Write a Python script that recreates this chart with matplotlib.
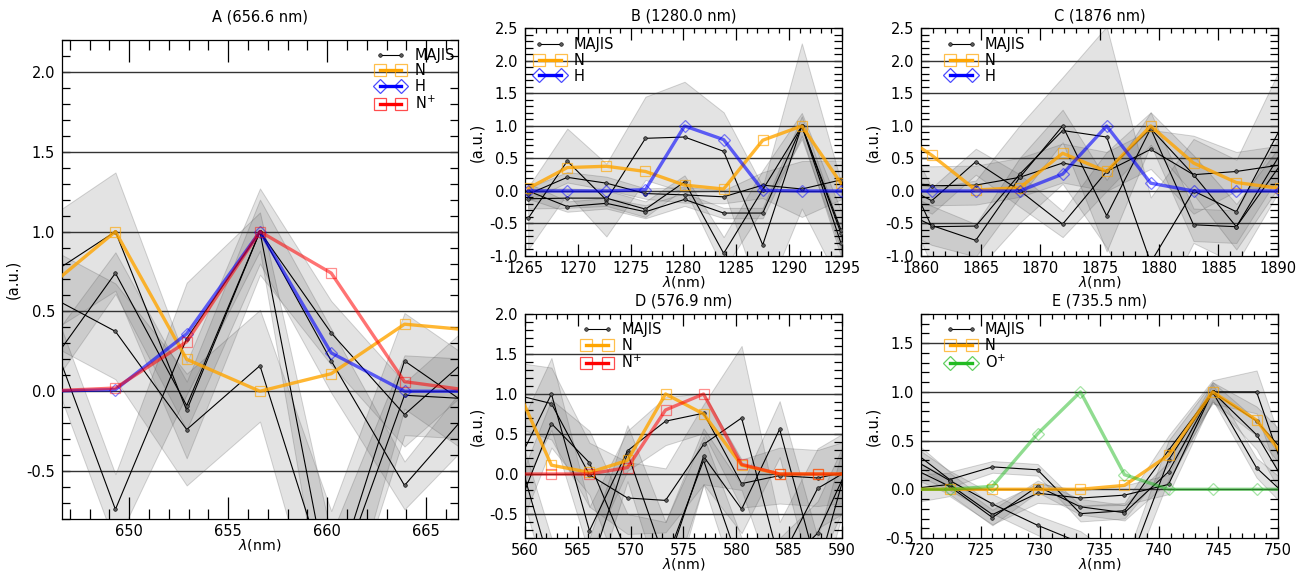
import matplotlib
matplotlib.use('Agg')
import matplotlib.pyplot as plt
from matplotlib.lines import Line2D
from matplotlib.ticker import MultipleLocator
import numpy as np

plt.rcParams['font.family'] = 'DejaVu Sans'
plt.rcParams['font.size'] = 10.5
plt.rcParams['axes.unicode_minus'] = False

# ---------------- A (656.6 nm)
a_wl = [645.6, 649.3, 652.9, 656.6, 660.2, 663.9, 667.5]
a_majis = [
    [0.70, 1.00, -0.12, 1.00, 0.365, -0.146, 0.25],
    [0.10, 0.74, -0.09, 1.00, 0.19, -0.59, -0.08],
    [0.62, 0.375, -0.24, 0.16, -1.25, 0.19, -0.12],
    [0.50, -0.74, 0.33, 1.00, -1.30, -0.025, -0.05],
]
a_majis_err = [
    [0.36, 0.37, 0.30, 0.27, 0.20, 0.20, 0.20],
    [0.15, 0.13, 0.15, 0.20, 0.20, 0.15, 0.20],
    [0.30, 0.30, 0.35, 0.35, 0.50, 0.30, 0.30],
    [0.22, 0.22, 0.35, 0.12, 0.40, 0.25, 0.25],
]
a_n = [0.62, 1.00, 0.20, 0.00, 0.11, 0.42, 0.38]
a_h = [0.00, 0.01, 0.36, 1.00, 0.24, 0.00, 0.00]
a_nplus = [0.00, 0.02, 0.31, 1.00, 0.74, 0.06, 0.00]

# ---------------- B (1280.0 nm)
b_wl = [1265.3, 1269.0, 1272.7, 1276.4, 1280.1, 1283.8, 1287.5, 1291.2, 1294.9]
b_majis = [
    [-0.42, 0.46, -0.14, 0.81, 0.83, 0.61, -0.83, 1.00, -0.65],
    [-0.05, 0.21, 0.12, -0.04, -0.06, -0.09, 0.09, 0.03, 0.17],
    [-0.12, -0.11, -0.11, -0.28, 0.14, -0.96, 0.02, 1.00, -0.60],
    [0.00, -0.24, -0.19, -0.32, -0.13, -0.34, -0.34, 1.00, -0.80],
]
b_majis_err = [
    [0.48, 0.50, 0.56, 0.64, 0.85, 0.60, 0.90, 1.27, 0.80],
    [0.10, 0.08, 0.10, 0.08, 0.12, 0.10, 0.20, 0.43, 0.30],
    [0.15, 0.15, 0.12, 0.12, 0.10, 0.25, 0.30, 0.20, 0.30],
    [0.12, 0.08, 0.08, 0.10, 0.10, 0.08, 0.08, 0.15, 0.20],
]
b_n = [0.04, 0.36, 0.38, 0.30, 0.09, 0.03, 0.78, 1.00, 0.12]
b_h = [0.00, 0.00, 0.00, 0.02, 1.00, 0.79, 0.01, 0.00, 0.00]

# ---------------- C (1876 nm)
c_wl = [1857.2, 1860.9, 1864.6, 1868.3, 1871.9, 1875.6, 1879.3, 1882.9, 1886.5, 1890.2]
c_majis = [
    [0.10, 0.08, 0.09, 0.21, 0.43, 0.30, 0.64, 0.25, 0.30, 0.40],
    [0.20, -0.15, 0.45, 0.005, -0.51, 0.30, 0.96, -0.52, -0.55, 0.57],
    [0.90, -0.55, -0.54, 0.26, 0.93, 0.83, -1.10, 0.00, -0.32, 0.96],
    [-0.20, -0.53, -0.76, 0.21, 1.00, -0.38, 0.96, 0.25, -0.55, 0.40],
]
c_majis_err = [
    [0.30, 0.30, 0.30, 0.30, 0.30, 0.30, 0.30, 0.60, 0.30, 0.30],
    [0.20, 0.20, 0.20, 0.25, 0.20, 0.30, 0.25, 0.25, 0.25, 0.30],
    [0.50, 0.60, 0.70, 0.75, 0.82, 1.70, 1.00, 0.80, 0.80, 0.93],
    [0.30, 0.30, 0.25, 0.30, 0.25, 0.55, 0.25, 0.30, 0.35, 0.30],
]
c_n = [1.00, 0.55, 0.015, 0.05, 0.58, 0.30, 1.00, 0.43, 0.13, 0.04]
c_h = [0.00, 0.00, 0.00, 0.00, 0.26, 1.00, 0.12, 0.00, 0.00, 0.00]

# ---------------- D (576.9 nm)
d_wl = [558.8, 562.5, 566.1, 569.7, 573.3, 576.9, 580.5, 584.1, 587.7, 591.3]
d_majis = [
    [1.00, 0.88, -0.01, -0.30, -0.33, 0.37, 0.70, -1.10, -0.18, 0.10],
    [0.00, 1.00, -0.71, 0.29, 0.66, 0.76, -0.12, -0.02, -0.05, 0.05],
    [-0.60, 0.63, 0.14, -1.00, -1.20, 0.22, -0.44, 0.56, -1.20, 0.50],
    [0.50, -1.20, -1.20, 0.26, -1.10, 0.17, -1.20, -1.20, -0.74, 0.30],
]
d_majis_err = [
    [0.40, 0.45, 0.40, 0.45, 0.40, 0.50, 0.90, 0.50, 0.50, 0.50],
    [0.40, 0.45, 0.30, 0.25, 0.30, 0.25, 0.30, 0.35, 0.35, 0.40],
    [0.30, 0.30, 0.40, 0.50, 0.60, 0.35, 0.30, 0.35, 0.40, 0.40],
    [0.30, 0.40, 0.40, 0.35, 0.50, 0.30, 0.40, 0.40, 0.40, 0.40],
]
d_n = [1.20, 0.11, 0.02, 0.17, 1.00, 0.75, 0.11, 0.00, 0.00, 0.00]
d_nplus = [0.00, 0.00, 0.00, 0.08, 0.80, 1.00, 0.12, 0.00, 0.00, 0.00]

# ---------------- E (735.5 nm)
e_wl = [718.7, 722.4, 726.0, 729.8, 733.4, 737.1, 740.8, 744.5, 748.2, 751.9]
e_majis = [
    [0.45, 0.10, 0.23, 0.20, -0.25, -0.22, 0.40, 1.00, 1.00, -0.30],
    [0.25, 0.03, -0.29, 0.03, -0.18, -0.24, 0.18, 1.00, 0.56, -0.20],
    [0.00, 0.05, -0.26, -0.04, -0.09, -0.06, 0.05, 1.00, 0.22, -0.20],
    [0.35, 0.09, -0.15, -0.37, -0.55, -0.90, 0.30, 1.00, 0.70, 0.20],
]
e_majis_err = [
    [0.12, 0.08, 0.06, 0.06, 0.08, 0.08, 0.15, 0.12, 0.22, 0.20],
    [0.10, 0.08, 0.08, 0.06, 0.08, 0.08, 0.10, 0.10, 0.15, 0.20],
    [0.15, 0.12, 0.10, 0.10, 0.08, 0.10, 0.10, 0.08, 0.10, 0.15],
    [0.15, 0.10, 0.10, 0.10, 0.12, 0.15, 0.20, 0.10, 0.15, 0.20],
]
e_n = [0.00, 0.00, 0.00, 0.00, 0.00, 0.04, 0.35, 1.00, 0.71, 0.10]
e_oplus = [0.00, 0.00, 0.03, 0.57, 1.00, 0.15, 0.00, 0.00, 0.00, 0.00]

# species styles: colour, marker, line alpha
styles = {
    'N': ('#ffa500', 's', 0.8),
    'H': ('#0000ff', 'D', 0.6),
    'N$^{+}$': ('#ff0000', 's', 0.55),
    'O$^{+}$': ('#22bb22', 'D', 0.5),
}


def draw_panel(ax, title, wl, majis, majis_err, models, xlim, ylim,
               leg_loc, leg_anchor, xtick_len, title_pad=6):
    wl = np.array(wl)
    for y, s in zip(majis, majis_err):
        y = np.array(y)
        s = np.array(s)
        ax.fill_between(wl, y - s, y + s, facecolor='0.45', alpha=0.2,
                        edgecolor='0.2', lw=0.7, zorder=1)
    for y in majis:
        ax.plot(wl, y, color='k', lw=0.8, marker='o', ms=2.6,
                mfc='0.35', mec='k', mew=0.4, zorder=3)

    handles = [Line2D([], [], color='k', lw=0.8, marker='o', ms=2.6,
                      mfc='0.35', mec='k', mew=0.4)]
    labels = ['MAJIS']
    for name, vals in models:
        col, mk, al = styles[name]
        rgb = matplotlib.colors.to_rgb(col)
        ms = 7.5 if mk == 's' else 6
        ax.plot(wl, vals, color=rgb + (al,), lw=2.4, marker=mk, ms=ms,
                mfc='none', mec=rgb + (al * 0.8,), mew=0.9, zorder=4)
        handles.append(Line2D([], [], color=col, lw=2.4, marker=mk, ms=ms + 1.5,
                              mfc='none', mec=rgb + (0.7,), mew=0.9))
        labels.append(name)

    ax.set_xlim(*xlim)
    ax.set_ylim(*ylim)
    ax.xaxis.set_major_locator(MultipleLocator(5))
    ax.xaxis.set_minor_locator(MultipleLocator(1))
    ax.yaxis.set_major_locator(MultipleLocator(0.5))
    ax.yaxis.set_minor_locator(MultipleLocator(0.1))
    ax.tick_params(axis='both', which='both', direction='in', top=True,
                   right=True, width=0.9, pad=3.5)
    ax.tick_params(axis='y', which='both', pad=5)
    ax.tick_params(axis='x', which='major', length=xtick_len)
    ax.tick_params(axis='x', which='minor', length=xtick_len * 0.45)
    ax.tick_params(axis='y', which='both', length=5.5)

    for g in np.arange(-2.0, 3.0, 0.5):
        if ylim[0] < g < ylim[1]:
            ax.axhline(g, color='0.2', lw=1.0, zorder=2)

    for sp in ax.spines.values():
        sp.set_linewidth(0.9)

    ax.set_title(title, fontsize=10.5, pad=title_pad)
    ax.set_xlabel(r'$\lambda$(nm)', labelpad=-1, fontsize=10.2)
    ax.set_ylabel('(a.u.)')
    ax.legend(handles, labels, loc=leg_loc, bbox_to_anchor=leg_anchor,
              frameon=False, numpoints=2, handlelength=2.1, handletextpad=0.6,
              labelspacing=0.05, borderpad=0.2, borderaxespad=0, fontsize=10.5)


fig = plt.figure(figsize=(13.07, 5.76), dpi=100)
ax_a = fig.add_axes([0.0474, 0.0990, 0.3030, 0.8316])
ax_b = fig.add_axes([0.4017, 0.5556, 0.2425, 0.3950])
ax_c = fig.add_axes([0.7047, 0.5556, 0.2731, 0.3950])
ax_d = fig.add_axes([0.4017, 0.0660, 0.2425, 0.3889])
ax_e = fig.add_axes([0.7047, 0.0660, 0.2731, 0.3889])

draw_panel(ax_a, 'A (656.6 nm)', a_wl, a_majis, a_majis_err,
           [('N', a_n), ('H', a_h), ('N$^{+}$', a_nplus)],
           (646.6, 666.6), (-0.8, 2.2), 'upper right', (1.0, 0.99), 16, title_pad=13)
draw_panel(ax_b, 'B (1280.0 nm)', b_wl, b_majis, b_majis_err,
           [('N', b_n), ('H', b_h)],
           (1265, 1295), (-1.0, 2.5), 'upper left', (0.02, 0.975), 8.5)
draw_panel(ax_c, 'C (1876 nm)', c_wl, c_majis, c_majis_err,
           [('N', c_n), ('H', c_h)],
           (1860, 1890), (-1.0, 2.5), 'upper left', (0.06, 0.975), 8.5)
draw_panel(ax_d, 'D (576.9 nm)', d_wl, d_majis, d_majis_err,
           [('N', d_n), ('N$^{+}$', d_nplus)],
           (560, 590), (-0.8, 2.0), 'upper left', (0.17, 0.975), 8.5)
draw_panel(ax_e, 'E (735.5 nm)', e_wl, e_majis, e_majis_err,
           [('N', e_n), ('O$^{+}$', e_oplus)],
           (720, 750), (-0.5, 1.8), 'upper left', (0.06, 0.975), 8.5)

fig.savefig('out.png', dpi=100)
